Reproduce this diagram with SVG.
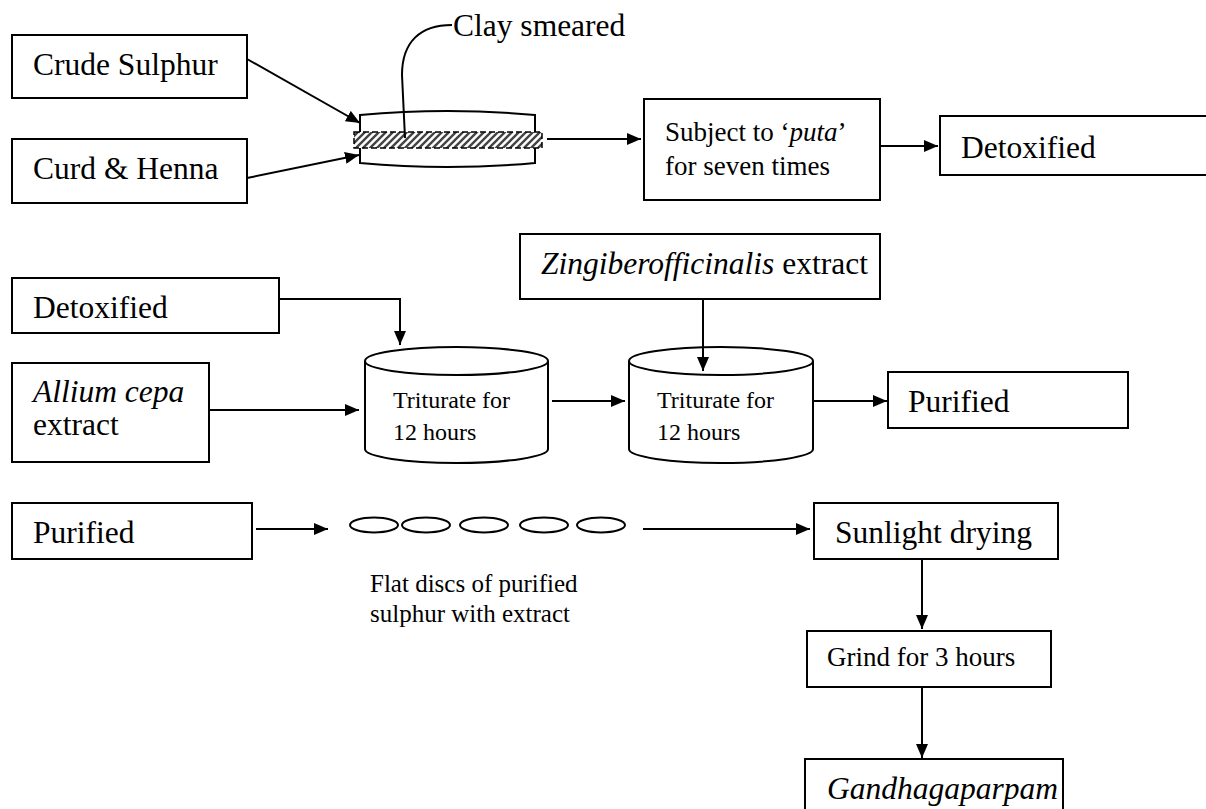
<svg xmlns="http://www.w3.org/2000/svg" width="1206" height="809" viewBox="0 0 1206 809">
<style>
.box{fill:#fff;stroke:#000;stroke-width:2}
.t{font-family:'Liberation Serif','DejaVu Serif',serif;fill:#000}
.big{font-size:31.5px}
.mid{font-size:27px}
.sm{font-size:24px}
.disc{font-size:25px}
.it{font-style:italic}
.ln{fill:none;stroke:#000;stroke-width:2}
.shape{fill:#fff;stroke:#000;stroke-width:2}
</style>
<defs>
<marker id="ah" viewBox="0 0 14 12" refX="14" refY="6" markerWidth="14" markerHeight="12" markerUnits="userSpaceOnUse" orient="auto">
<path d="M0,0 L14,6 L0,12 z" fill="#000"/>
</marker>
<pattern id="hatch" patternUnits="userSpaceOnUse" width="7" height="7">
<rect width="7" height="7" fill="#fff"/>
<path d="M-1,8 L8,-1 M-4,4 L4,-4 M3,11 L11,3" stroke="#444" stroke-width="2.4"/>
</pattern>
</defs>
<g font-family="Liberation Serif, DejaVu Serif, serif">
<g id="crude-sulphur"><rect class="box" x="12" y="35" width="235" height="63"/><text class="t big" x="33" y="75">Crude Sulphur</text></g>
<g id="curd-henna"><rect class="box" x="12" y="139" width="235" height="64"/><text class="t big" x="33" y="179">Curd &amp; Henna</text></g>

<g id="clay-vessel">
<path class="shape" d="M360,133 V115 Q447.5,107 535,115 V133 Z"/>
<path class="shape" d="M360,147 V163 Q447.5,171 535,163 V147 Z"/>
<rect x="354" y="132" width="188" height="16" fill="url(#hatch)" stroke="#000" stroke-width="1.5" stroke-dasharray="6,3"/>
</g>
<g id="clay-label">
<path class="ln" d="M405,138 L402,75 C402,42 420,25 452,25"/>
<text class="t big" x="453" y="36">Clay smeared</text>
</g>

<g id="subject-puta"><rect class="box" x="644" y="99" width="236" height="101"/>
<text class="t mid" x="665" y="141">Subject to ‘<tspan class="it">puta</tspan>’</text>
<text class="t mid" x="665" y="175">for seven times</text></g>
<g id="detoxified-1"><rect class="box" x="940" y="116" width="270" height="59"/><text class="t big" x="961" y="158">Detoxified</text></g>

<g id="detoxified-2"><rect class="box" x="12" y="278" width="267" height="55"/><text class="t big" x="33" y="318">Detoxified</text></g>
<g id="allium"><rect class="box" x="12" y="363" width="197" height="99"/>
<text class="t big it" x="33" y="402">Allium cepa</text>
<text class="t big" x="33" y="435">extract</text></g>
<g id="triturate-1">
<path class="shape" d="M365,361 V449 A91.5,14 0 0 0 548,449 V361"/>
<ellipse class="shape" cx="456.5" cy="361" rx="91.5" ry="14"/>
<text class="t sm" x="393" y="408">Triturate for</text>
<text class="t sm" x="393" y="440">12 hours</text>
</g>
<g id="zingiber"><rect class="box" x="520" y="234" width="360" height="65"/>
<text class="t big" x="541" y="274"><tspan class="it">Zingiberofficinalis</tspan> extract</text></g>
<g id="triturate-2">
<path class="shape" d="M629,361 V449 A92,14 0 0 0 813,449 V361"/>
<ellipse class="shape" cx="721" cy="361" rx="92" ry="14"/>
<text class="t sm" x="657" y="408">Triturate for</text>
<text class="t sm" x="657" y="440">12 hours</text>
</g>
<g id="purified-1"><rect class="box" x="888" y="372" width="240" height="56"/><text class="t big" x="908" y="412">Purified</text></g>

<g id="purified-2"><rect class="box" x="12" y="503" width="240" height="56"/><text class="t big" x="33" y="543">Purified</text></g>
<g id="discs">
<ellipse class="shape" cx="374" cy="525" rx="24" ry="7.5"/>
<ellipse class="shape" cx="426" cy="525" rx="24" ry="7.5"/>
<ellipse class="shape" cx="484" cy="525" rx="24" ry="7.5"/>
<ellipse class="shape" cx="544" cy="525" rx="24" ry="7.5"/>
<ellipse class="shape" cx="601" cy="525" rx="24" ry="7.5"/>
<text class="t disc" x="370" y="592">Flat discs of purified</text>
<text class="t disc" x="370" y="622">sulphur with extract</text>
</g>
<g id="sunlight"><rect class="box" x="814" y="503" width="244" height="56"/><text class="t big" x="835" y="543">Sunlight drying</text></g>
<g id="grind"><rect class="box" x="807" y="631" width="244" height="56"/><text class="t mid" x="827" y="666">Grind for 3 hours</text></g>
<g id="gandhagaparpam"><rect class="box" x="805" y="759" width="258" height="60"/><text class="t big it" x="827" y="799">Gandhagaparpam</text></g>
</g>
<g id="connectors">
<path class="ln" d="M247,59 L360,123" marker-end="url(#ah)"/>
<path class="ln" d="M247,178 L359,155" marker-end="url(#ah)"/>
<path class="ln" d="M547,139 L641,139" marker-end="url(#ah)"/>
<path class="ln" d="M880,146 L938,146" marker-end="url(#ah)"/>
<path class="ln" d="M279,299 H400 V345" marker-end="url(#ah)"/>
<path class="ln" d="M209,410 L359,410" marker-end="url(#ah)"/>
<path class="ln" d="M552,401 L625,401" marker-end="url(#ah)"/>
<path class="ln" d="M703,299 L703,371" marker-end="url(#ah)"/>
<path class="ln" d="M813,401 L887,401" marker-end="url(#ah)"/>
<path class="ln" d="M256,529 L328,529" marker-end="url(#ah)"/>
<path class="ln" d="M643,529 L810,529" marker-end="url(#ah)"/>
<path class="ln" d="M922,559 L922,629" marker-end="url(#ah)"/>
<path class="ln" d="M922,687 L922,758" marker-end="url(#ah)"/>
</g>
</svg>
